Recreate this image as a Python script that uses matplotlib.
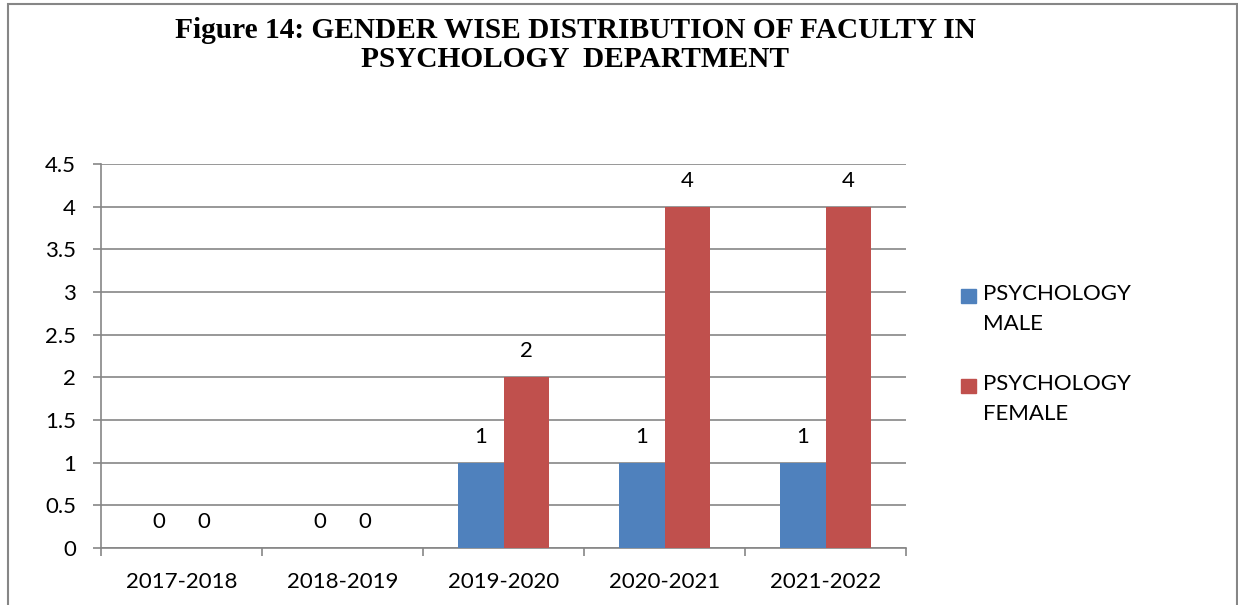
import numpy as np
import matplotlib.pyplot as plt
from matplotlib.patches import Rectangle

years = ['2017-2018', '2018-2019', '2019-2020', '2020-2021', '2021-2022']
male = [0, 0, 1, 1, 1]
female = [0, 0, 2, 4, 4]
yticks = [0, 0.5, 1, 1.5, 2, 2.5, 3, 3.5, 4, 4.5]
series_names = ['PSYCHOLOGY\nMALE', 'PSYCHOLOGY\nFEMALE']

blue = '#4f81bd'
red = '#c0504d'
grey = '#868686'
body_font = ['Lato', 'DejaVu Sans']
W, H = 1238, 605

fig = plt.figure(figsize=(W / 100, H / 100), dpi=100)
ax = fig.add_axes([101 / W, 1 - 548 / H, (906 - 101) / W, (548 - 164) / H])

x = np.arange(len(years))
w = 0.28
ax.bar(x - w / 2, male, w, color=blue, zorder=3)
ax.bar(x + w / 2, female, w, color=red, zorder=3)

for xi, v in zip(x, male):
    ax.annotate(str(v), (xi - w / 2, v), xytext=(0, 26), textcoords='offset pixels',
                ha='center', va='center', fontsize=16, family=body_font)
for xi, v in zip(x, female):
    ax.annotate(str(v), (xi + w / 2, v), xytext=(0, 26), textcoords='offset pixels',
                ha='center', va='center', fontsize=16, family=body_font)

ax.set_xlim(-0.5, len(years) - 0.5)
ax.set_ylim(0, 4.5)
ax.set_yticks(yticks)
ax.set_yticklabels(['0', '0.5', '1', '1.5', '2', '2.5', '3', '3.5', '4', '4.5'],
                   family=body_font, fontsize=16)
ax.yaxis.grid(True, color=grey, linewidth=1.2, zorder=0)
ax.set_xticks(x)
ax.set_xticklabels(years, family=body_font, fontsize=16)
ax.tick_params(axis='x', length=0, pad=17)
ax.tick_params(axis='y', length=6, width=1.2, color=grey, pad=12)
# category boundary ticks on x axis
ax.set_xticks(np.arange(-0.5, len(years)), minor=True)
ax.tick_params(axis='x', which='minor', length=6, width=1.2, color=grey, direction='out')

for s in ['top', 'right']:
    ax.spines[s].set_visible(False)
for s in ['left', 'bottom']:
    ax.spines[s].set_color(grey)
    ax.spines[s].set_linewidth(1.2)

fig.text(575 / W, 1 - 38 / H, 'Figure 14: GENDER WISE DISTRIBUTION OF FACULTY IN',
         ha='center', va='baseline', fontsize=21.2, fontweight='bold', family='Liberation Serif')
fig.text(575 / W, 1 - 67 / H, 'PSYCHOLOGY  DEPARTMENT',
         ha='center', va='baseline', fontsize=21.2, fontweight='bold', family='Liberation Serif')

# legend, square beside the first line of each two-line label
for i, (name, col) in enumerate(zip(series_names, [blue, red])):
    top = 289 + i * 90
    fig.patches.append(Rectangle((961 / W, 1 - (top + 14) / H), 15 / W, 14 / H,
                                 transform=fig.transFigure, color=col))
    fig.text(983 / W, 1 - (top - 5) / H, name, ha='left', va='top',
             fontsize=16, family=body_font, linespacing=1.65)

fig.patches.append(Rectangle((8 / W, -0.1), (1237 - 8) / W, 1.1 - 4 / H,
                             transform=fig.transFigure, fill=False,
                             edgecolor=grey, linewidth=1.5))

fig.savefig('out.png', dpi=100)
